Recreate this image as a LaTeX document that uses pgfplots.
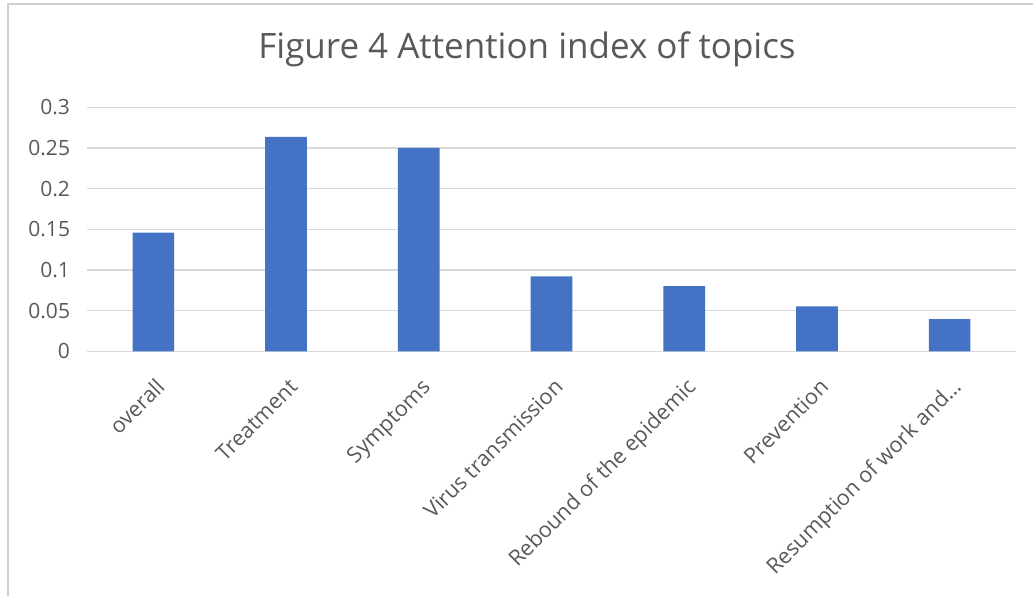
\documentclass[border=0pt]{standalone}
\usepackage{pgfplots}
\pgfplotsset{compat=1.18}
\usepackage{fontspec}
\setmainfont{Open Sans}
\definecolor{barblue}{HTML}{4472C4}
\definecolor{txtgray}{HTML}{595959}
\definecolor{gridgray}{HTML}{D9D9D9}
\definecolor{framegray}{HTML}{D0D0D0}
\begin{document}
\begin{tikzpicture}[x=1pt,y=1pt]
\useasboundingbox (0,0) rectangle (516.5,298);
\draw[framegray, line width=0.6pt] (4,0) -- (4,296) -- (516.5,296);
\node[txtgray, font=\fontsize{17.5}{19}\selectfont] at (263.5,273.5) {Figure 4 Attention index of topics};
\begin{axis}[
  at={(43.5pt,122.35pt)}, anchor=south west,
  scale only axis,
  width=464.5pt, height=122pt,
  xmin=-0.5, xmax=6.5, ymin=0, ymax=0.3,
  ybar, bar width=20.85pt,
  axis line style={draw=none},
  axis x line*=bottom,
  x axis line style={draw=gridgray, line width=0.6pt},
  ymajorgrids, grid style={gridgray, line width=0.6pt},
  major tick length=0pt,
  ytick={0,0.05,0.1,0.15,0.2,0.25,0.3},
  yticklabels={0,0.05,0.1,0.15,0.2,0.25,0.3},
  xtick={0,1,2,3,4,5,6},
  xticklabels={overall,Treatment,Symptoms,Virus transmission,Rebound of the epidemic,Prevention,Resumption of work and\dots},
  tick label style={txtgray},
  yticklabel style={font=\fontsize{10.5}{12}\selectfont, anchor=east, inner sep=0pt, xshift=-8.3pt},
  xticklabel style={font=\fontsize{10.8}{12}\selectfont, xshift=6.5pt, rotate=45, anchor=base east, inner sep=0pt},
  xticklabel shift=18.5pt,
  clip=false,
]
\addplot[fill=barblue, draw=none] coordinates {
  (0,0.1458) (1,0.2635) (2,0.2500) (3,0.0920) (4,0.0802) (5,0.0553) (6,0.0396)
};
\end{axis}
\end{tikzpicture}
\end{document}
